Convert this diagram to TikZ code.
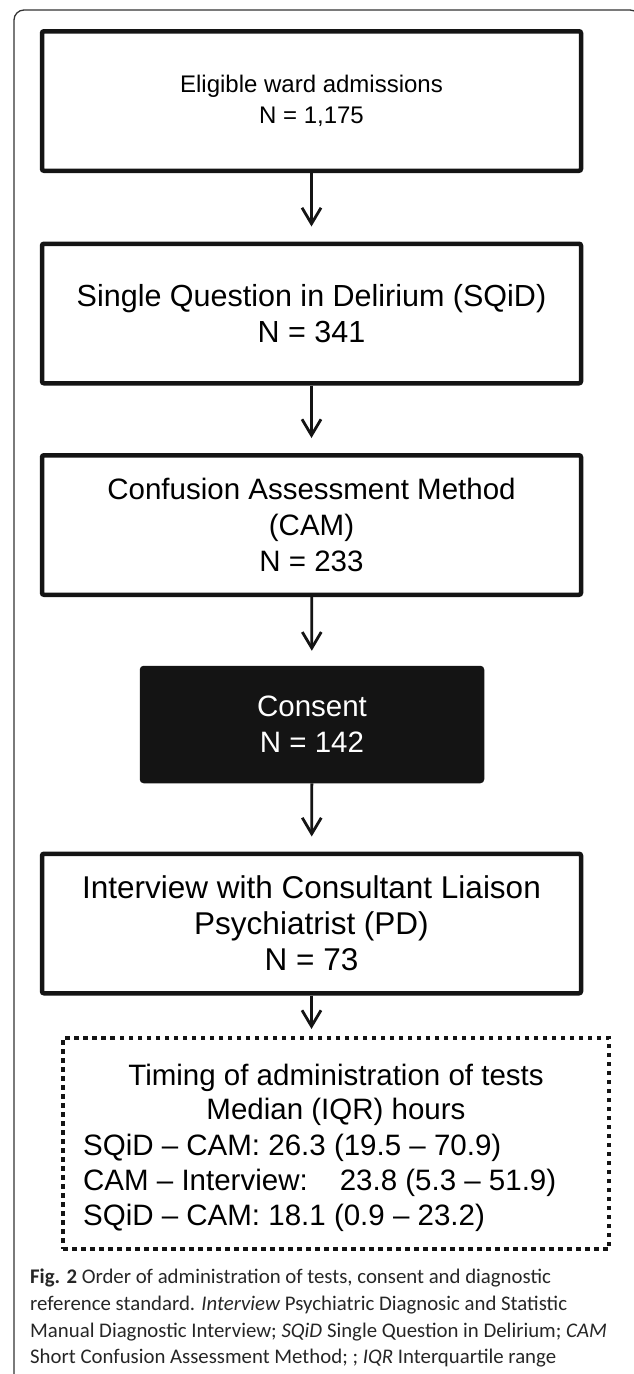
\documentclass[tikz,border=0pt]{standalone}
\usepackage{fontspec}
\setmainfont{Liberation Sans}
\newfontfamily\captionfont{Carlito}
\usetikzlibrary{arrows.meta}

\begin{document}
\begin{tikzpicture}[
    x=1pt, y=-1pt,
    every node/.style={inner sep=0pt},
    >={Straight Barb[length=16pt,width=19pt]},
    caja/.style={draw=black!92, line width=4.5pt, rounded corners=2pt,
        minimum width=539pt, minimum height=139.5pt, align=center,
        font=\fontsize{29.5}{36}\selectfont},
    flecha/.style={->, line width=2.8pt, draw=black!92, shorten >=15pt},
    linea/.style={anchor=base west, font=\fontsize{29.5}{36}\selectfont}
]
\useasboundingbox (0,0) rectangle (633,1374);

% Marco
\draw[line width=1.3pt, black!80, rounded corners=10pt]
    (14,1400) -- (14,10) -- (640,10) -- (640,1400);

% Cajas
\node[caja, font=\fontsize{24}{31}\selectfont] (elig) at (311.5,101)
    {Eligible ward admissions\\N = 1,175};
\node[caja, font=\fontsize{30.5}{36}\selectfont] (sqid) at (311.5,313.5)
    {Single Question in Delirium (SQiD)\\N = 341};
\node[caja] (cam) at (311.5,525)
    {Confusion Assessment Method\\(CAM)\\N = 233};
\node[caja, fill=black!92, text=white, minimum width=340pt,
    minimum height=113pt] (consent) at (312,724.5)
    {Consent\\N = 142};
\node[caja, font=\fontsize{31.5}{36}\selectfont] (psiq) at (311.5,923.5)
    {Interview with Consultant Liaison\\Psychiatrist (PD)\\N = 73};
\node[draw=black!92, line width=4pt, dash pattern=on 4.5pt off 4.5pt,
    minimum width=546pt, minimum height=211pt] (timing) at (336,1143.5) {};

% Texto del recuadro punteado
\node[anchor=base, font=\fontsize{29.5}{36}\selectfont] (t1) at (336,1085)
    {Timing of administration of tests};
\node[anchor=base, font=\fontsize{29.5}{36}\selectfont] (t2) at (336,1119)
    {Median (IQR) hours};
\node[linea] (t3) at (83,1155) {SQiD – CAM: 26.3 (19.5 – 70.9)};
\node[linea] (t4) at (83,1190)
    {CAM – Interview:\hspace{32pt}23.8 (5.3 – 51.9)};
\node[linea] (t5) at (83,1225) {SQiD – CAM: 18.1 (0.9 – 23.2)};

% Flechas
\draw[flecha] (elig) -- (sqid);
\draw[flecha] (sqid) -- (cam);
\draw[flecha] (cam) -- (consent);
\draw[flecha] (consent) -- (psiq);
\draw[flecha, shorten >=7pt] (psiq) -- (psiq.south |- timing.north);

% Pie de figura
\node[anchor=north west, align=left, text=black!85,
    font=\captionfont\fontsize{20.8}{26.7}\selectfont] (pie) at (30,1269)
    {\textbf{Fig. 2} Order of administration of tests, consent and diagnostic\\
    reference standard. \textit{Interview} Psychiatric Diagnosic and Statistic\\
    Manual Diagnostic Interview; \textit{SQiD} Single Question in Delirium; \textit{CAM}\\
    Short Confusion Assessment Method; ; \textit{IQR} Interquartile range};

\end{tikzpicture}
\end{document}
